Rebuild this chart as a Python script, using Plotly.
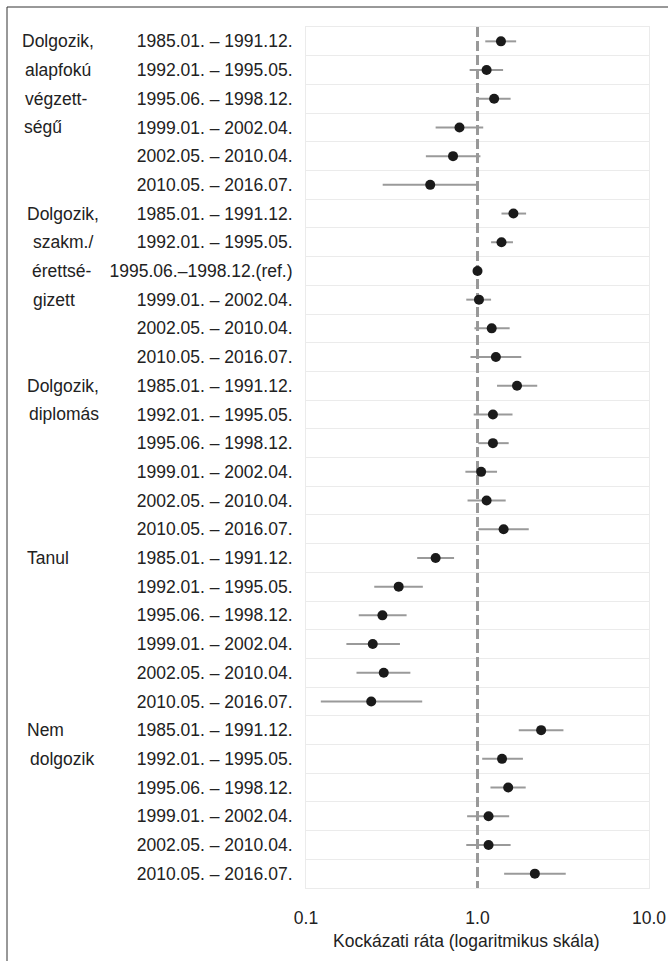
import plotly.graph_objects as go

# ---- data ----
periods = [
    "1985.01. – 1991.12.", "1992.01. – 1995.05.", "1995.06. – 1998.12.",
    "1999.01. – 2002.04.", "2002.05. – 2010.04.", "2010.05. – 2016.07.",
    "1985.01. – 1991.12.", "1992.01. – 1995.05.", "1995.06.–1998.12.(ref.)",
    "1999.01. – 2002.04.", "2002.05. – 2010.04.", "2010.05. – 2016.07.",
    "1985.01. – 1991.12.", "1992.01. – 1995.05.", "1995.06. – 1998.12.",
    "1999.01. – 2002.04.", "2002.05. – 2010.04.", "2010.05. – 2016.07.",
    "1985.01. – 1991.12.", "1992.01. – 1995.05.", "1995.06. – 1998.12.",
    "1999.01. – 2002.04.", "2002.05. – 2010.04.", "2010.05. – 2016.07.",
    "1985.01. – 1991.12.", "1992.01. – 1995.05.", "1995.06. – 1998.12.",
    "1999.01. – 2002.04.", "2002.05. – 2010.04.", "2010.05. – 2016.07.",
]

hazard_ratio = [1.37, 1.13, 1.25, 0.785, 0.72, 0.53,
                1.62, 1.38, 1.00, 1.02, 1.21, 1.28,
                1.70, 1.23, 1.23, 1.05, 1.13, 1.42,
                0.57, 0.347, 0.279, 0.245, 0.284, 0.24,
                2.35, 1.39, 1.51, 1.16, 1.16, 2.16]

ci_low = [1.11, 0.90, 1.01, 0.57, 0.50, 0.28,
          1.38, 1.20, 1.00, 0.86, 0.96, 0.91,
          1.30, 0.95, 1.01, 0.85, 0.875, 1.01,
          0.445, 0.25, 0.203, 0.172, 0.197, 0.122,
          1.74, 1.065, 1.19, 0.87, 0.86, 1.43]

ci_high = [1.68, 1.41, 1.56, 1.08, 1.04, 1.00,
           1.92, 1.61, 1.00, 1.20, 1.54, 1.80,
           2.23, 1.60, 1.52, 1.30, 1.46, 1.99,
           0.73, 0.48, 0.386, 0.353, 0.406, 0.476,
           3.17, 1.84, 1.91, 1.53, 1.56, 3.27]

# group label lines: (row index, text)
group_label_rows = [0, 1, 2, 3, 6, 7, 8, 9, 12, 13, 18, 24, 25]
group_label_text = ["Dolgozik,", "alapfokú", "végzett-", "ségű",
                    "Dolgozik,", "szakm./", "érettsé-", "gizett",
                    "Dolgozik,", "diplomás", "Tanul", "Nem", "dolgozik"]

x_tickvals = [0.1, 1, 10]
x_ticktext = ["0.1", "1.0", "10.0"]
reference_value = 1.0
x_title = "Kockázati ráta (logaritmikus skála)"

# ---- layout constants ----
W, H = 668, 961
ML, MR, MT, MB = 306, 19, 27, 73
PW = W - ML - MR
PH = H - MT - MB
FONT = "Liberation Sans, Arial, sans-serif"
FS = 17.5
TXT = "#222222"
# left x pixel of each group label line
group_label_px = [20, 23, 23, 22, 25, 31, 30, 31, 25, 27, 25, 25, 28]

rows = list(range(len(periods)))

ci_x, ci_y = [], []
for i, (lo, hi) in enumerate(zip(ci_low, ci_high)):
    if hi > lo:
        ci_x += [lo, hi, None]
        ci_y += [i, i, None]

fig = go.Figure()
fig.add_trace(go.Scatter(x=ci_x, y=ci_y, mode="lines",
                         line=dict(color="#9a9a9a", width=2),
                         hoverinfo="skip", showlegend=False))
fig.add_trace(go.Scatter(x=[reference_value, reference_value], y=[-0.5, len(rows) - 0.5],
                         mode="lines", line=dict(color="#999999", width=3, dash="10px,4px"),
                         hoverinfo="skip", showlegend=False))
fig.add_trace(go.Scatter(x=hazard_ratio, y=rows, mode="markers",
                         marker=dict(color="#1a1a1a", size=10),
                         showlegend=False))

annotations = []
for r, t, px in zip(group_label_rows, group_label_text, group_label_px):
    annotations.append(dict(x=(px - ML) / PW, xref="paper", y=r, yref="y",
                            text=t, showarrow=False, xanchor="left", yanchor="middle",
                            font=dict(family=FONT, size=FS, color=TXT)))
annotations.append(dict(x=(466 - ML) / PW, xref="paper", y=-(941 - (MT + PH)) / PH, yref="paper",
                        text=x_title, showarrow=False, xanchor="center", yanchor="middle",
                        font=dict(family=FONT, size=FS, color=TXT)))

shapes = [dict(type="rect", xref="paper", yref="paper",
               x0=(7 - ML) / PW, x1=1.3, y0=-0.3, y1=1 + (MT - 7) / PH,
               line=dict(color="#333333", width=1), fillcolor="rgba(0,0,0,0)", layer="below")]

fig.update_layout(
    width=W, height=H, autosize=False,
    margin=dict(l=ML, r=MR, t=MT, b=MB, pad=0, autoexpand=False),
    paper_bgcolor="white", plot_bgcolor="white",
    font=dict(family=FONT, size=FS, color=TXT),
    annotations=annotations, shapes=shapes,
    xaxis=dict(type="log", range=[-1, 1], tickvals=x_tickvals, ticktext=x_ticktext,
               showgrid=False, zeroline=False, showline=True, mirror=True, automargin=False,
               linecolor="#ebebeb", linewidth=1, ticks="", ticklabelstandoff=14,
               tickfont=dict(family=FONT, size=FS, color=TXT)),
    yaxis=dict(range=[len(rows) - 0.5, -0.5], tickvals=rows, ticktext=periods,
               showgrid=False, zeroline=False, showline=True, mirror=True, automargin=False,
               linecolor="#ebebeb", linewidth=1, ticks="", ticklabelstandoff=9,
               tickfont=dict(family=FONT, size=FS, color=TXT),
               minor=dict(tickvals=[i + 0.5 for i in rows[:-1]], showgrid=True,
                          gridcolor="#ebebeb", gridwidth=1.2)),
)

fig.write_html("out.html",
               config={"displayModeBar": False, "responsive": False},
               post_script="document.body.style.margin='0px';document.body.style.padding='0px';")
